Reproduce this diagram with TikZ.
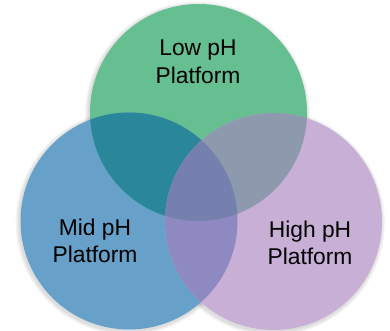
\documentclass[tikz,border=0pt]{standalone}
\usepackage{fontspec}
\setmainfont{Liberation Sans}
\definecolor{lowph}{HTML}{66BF91}
\definecolor{midph}{HTML}{67A0C9}
\definecolor{highph}{HTML}{C8AFD6}
\definecolor{lowmid}{HTML}{2A8699}
\definecolor{lowhigh}{HTML}{8D9AAE}
\definecolor{midhigh}{HTML}{8E8AC1}
\definecolor{allph}{HTML}{7680AE}
\tikzset{
  label/.style={font=\fontsize{22.8}{27.5}\selectfont, align=center, text=black, inner sep=0pt},
  halo/.style={fill=black, opacity=0.035}
}
\begin{document}
\begin{tikzpicture}[x=1pt, y=-1pt]
\useasboundingbox (0,0) rectangle (390,331);
% circle centres
\coordinate (cl) at (198.5,112.5);
\coordinate (cm) at (129,221);
\coordinate (ch) at (273.5,221.5);
\def\rad{108.5pt}
% soft shadow around the set outlines
\foreach \g in {1,2,3,4} {
  \fill[halo] (cl) ++(-1,1.5) circle [radius=\rad+\g pt];
  \fill[halo] (cm) ++(-1,1.5) circle [radius=\rad+\g pt];
  \fill[halo] (ch) ++(-1,1.5) circle [radius=\rad+\g pt];
}
% single sets
\fill[lowph] (cl) circle [radius=\rad];
\fill[midph] (cm) circle [radius=\rad];
\fill[highph] (ch) circle [radius=\rad];
% pairwise overlaps
\begin{scope}
  \clip (cl) circle [radius=\rad];
  \fill[lowmid] (cm) circle [radius=\rad];
  \fill[lowhigh] (ch) circle [radius=\rad];
\end{scope}
\begin{scope}
  \clip (cm) circle [radius=\rad];
  \fill[midhigh] (ch) circle [radius=\rad];
\end{scope}
% triple overlap
\begin{scope}
  \clip (cl) circle [radius=\rad];
  \clip (cm) circle [radius=\rad];
  \fill[allph] (ch) circle [radius=\rad];
\end{scope}
% labels
\node[label] (low) at (198,62) {Low pH\\Platform};
\node[label] (mid) at (95,241) {Mid pH\\Platform};
\node[label] (high) at (310,243) {High pH\\Platform};
\end{tikzpicture}
\end{document}
